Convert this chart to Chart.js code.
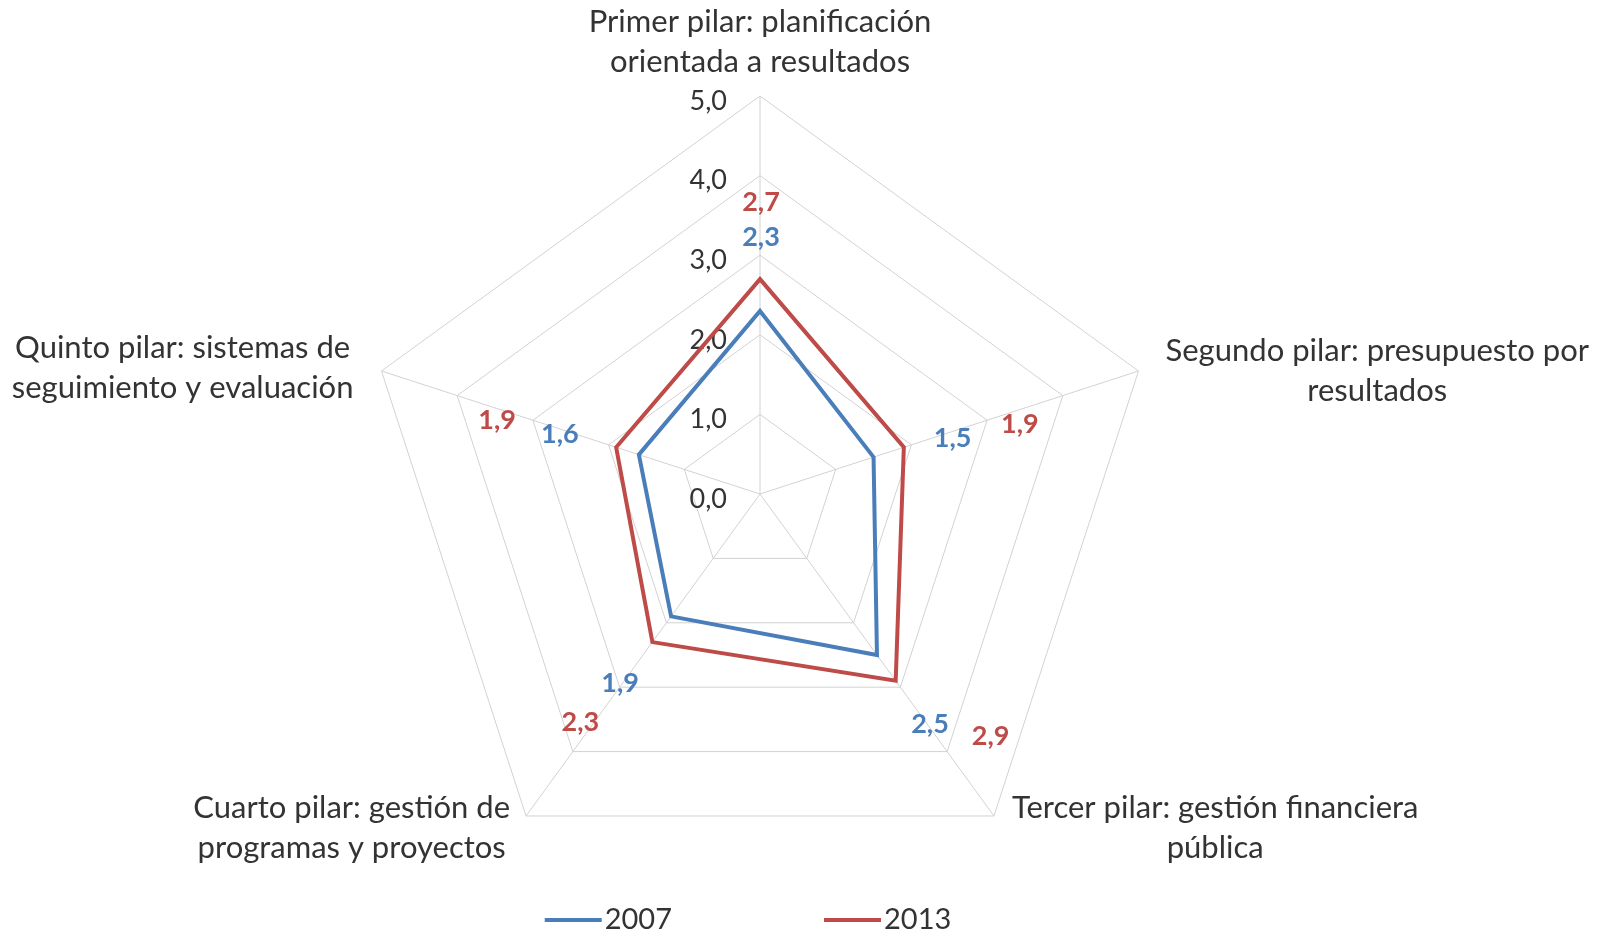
<!doctype html>
<html lang="es">
<head>
<meta charset="utf-8"/>
<title>Pilares de la gestión para resultados</title>
<script src="https://cdn.jsdelivr.net/npm/chart.js@4.4.0/dist/chart.umd.min.js"></script>
<style>
  html,body{margin:0;background:#fff}
  canvas{display:block}
</style>
</head>
<body>
<canvas id="radar" width="1610" height="935"></canvas>
<script>
// categorias (dos lineas cada una)
const pillars = [
  ['Primer pilar: planificación', 'orientada a resultados'],
  ['Segundo pilar: presupuesto por', 'resultados'],
  ['Tercer pilar: gestión financiera', 'pública'],
  ['Cuarto pilar: gestión de', 'programas y proyectos'],
  ['Quinto pilar: sistemas de', 'seguimiento y evaluación']
];
const years = ['2007', '2013'];
const values2007 = [2.3, 1.5, 2.5, 1.9, 1.6];
const values2013 = [2.7, 1.9, 2.9, 2.3, 1.9];
const tickValues = [0, 1, 2, 3, 4, 5];

// desplazamiento (px) de cada etiqueta respecto a su punto, como se movieron en Excel
const shift2007 = [[1, -74], [79, -19], [53, 69], [-51, 67], [-79, -20]];
const shift2013 = [[1, -77], [116, -23], [95, 56], [-72, 80], [-119, -27]];

const BLUE = '#4a7ebb', RED = '#be4b48', TXT = '#333';
const FONT = 'Lato, "Open Sans", sans-serif';
const fmt = v => v.toFixed(1).replace('.', ',');

const labelsPlugin = {
  id: 'excelLabels',
  beforeDatasetsDraw(chart) {
    const ctx = chart.ctx, r = chart.scales.r;
    ctx.save();
    ctx.font = '27px ' + FONT;
    ctx.fillStyle = TXT;
    ctx.textAlign = 'right';
    ctx.textBaseline = 'middle';
    tickValues.forEach(v => {
      const y = r.yCenter - r.getDistanceFromCenterForValue(v);
      ctx.fillText(fmt(v), r.xCenter - 33, y + 5);
    });
    ctx.restore();
  },
  afterDatasetsDraw(chart) {
    const ctx = chart.ctx, r = chart.scales.r;
    ctx.save();
    ctx.textBaseline = 'middle';

    // etiquetas de datos
    ctx.font = 'bold 27px ' + FONT;
    ctx.textAlign = 'center';
    const shifts = [shift2007, shift2013];
    chart.data.datasets.forEach((ds, d) => {
      ctx.fillStyle = ds.borderColor;
      ds.data.forEach((v, i) => {
        const p = r.getPointPosition(i, r.getDistanceFromCenterForValue(v));
        ctx.fillText(fmt(v), p.x + shifts[d][i][0], p.y + shifts[d][i][1]);
      });
    });

    // nombres de los pilares
    ctx.font = '31px ' + FONT;
    ctx.fillStyle = TXT;
    const lh = 40;
    pillars.forEach((lines, i) => {
      const p = r.getPointPosition(i, r.drawingArea);
      const w = Math.max(...lines.map(s => ctx.measureText(s).width));
      let cx, y0;
      if (i === 0) { cx = p.x; y0 = p.y - 74; }
      else if (i === 1) { cx = p.x + 27 + w / 2; y0 = p.y - 20; }
      else if (i === 4) { cx = p.x - 28 - w / 2; y0 = p.y - 23; }
      else if (i === 2) { cx = p.x + 18 + w / 2; y0 = p.y - 8; }
      else { cx = p.x - 16 - w / 2; y0 = p.y - 8; }
      lines.forEach((s, k) => ctx.fillText(s, cx, y0 + k * lh));
    });

    // leyenda
    ctx.font = '29px ' + FONT;
    ctx.textAlign = 'left';
    const ly = 920, lineW = 57, gap = 152;
    const itemW = chart.data.datasets.map(ds => lineW + 3 + ctx.measureText(ds.label).width);
    let x = 748 - (itemW[0] + gap + itemW[1]) / 2;
    chart.data.datasets.forEach((ds, d) => {
      ctx.strokeStyle = ds.borderColor;
      ctx.lineWidth = 4;
      ctx.beginPath();
      ctx.moveTo(x, ly);
      ctx.lineTo(x + lineW, ly);
      ctx.stroke();
      ctx.fillStyle = TXT;
      ctx.fillText(ds.label, x + lineW + 3, ly);
      x += itemW[d] + gap;
    });
    ctx.restore();
  }
};

new Chart(document.getElementById('radar'), {
  type: 'radar',
  data: {
    labels: pillars,
    datasets: [
      { label: years[0], data: values2007, borderColor: BLUE, borderWidth: 4, fill: false, pointRadius: 0 },
      { label: years[1], data: values2013, borderColor: RED, borderWidth: 4, fill: false, pointRadius: 0 }
    ]
  },
  options: {
    responsive: false,
    animation: false,
    layout: { padding: { left: 362, right: 452, top: 96, bottom: 43 } },
    elements: { line: { tension: 0, borderJoinStyle: 'miter' } },
    plugins: { legend: { display: false }, tooltip: { enabled: false } },
    scales: {
      r: {
        min: tickValues[0],
        max: tickValues[tickValues.length - 1],
        ticks: { stepSize: 1, display: false },
        grid: { color: '#d2d2d2', lineWidth: 1 },
        angleLines: { color: '#d2d2d2', lineWidth: 1 },
        pointLabels: { display: false }
      }
    }
  },
  plugins: [labelsPlugin]
});
</script>
</body>
</html>
